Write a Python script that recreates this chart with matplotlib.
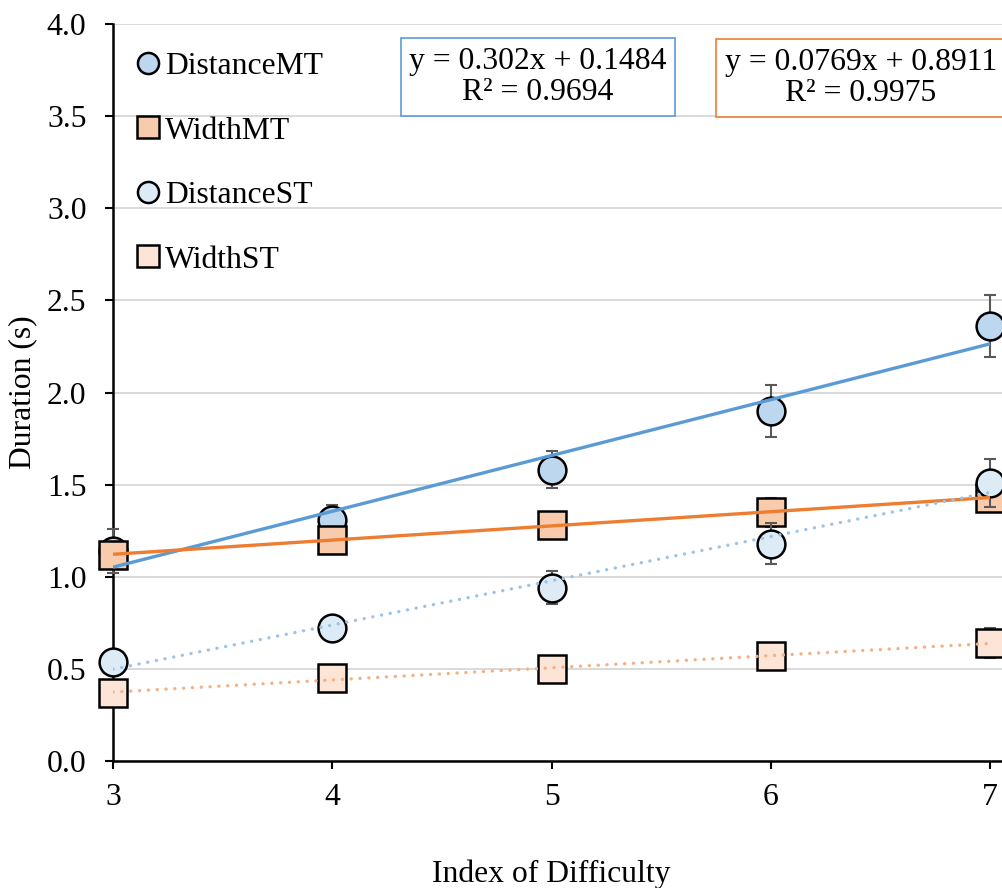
import numpy as np
import matplotlib
matplotlib.use("Agg")
import matplotlib.pyplot as plt

plt.rcParams['font.family'] = ['Liberation Serif', 'DejaVu Serif']

# Data
index_of_difficulty = np.array([3, 4, 5, 6, 7])
distance_mt = np.array([1.14, 1.31, 1.58, 1.90, 2.36])
width_mt = np.array([1.12, 1.20, 1.28, 1.35, 1.43])
distance_st = np.array([0.54, 0.72, 0.94, 1.18, 1.51])
width_st = np.array([0.37, 0.45, 0.50, 0.57, 0.64])

distance_mt_err = np.array([0.12, 0.08, 0.10, 0.14, 0.17])
width_mt_err = np.array([0.06, 0.07, 0.07, 0.08, 0.08])
distance_st_err = np.array([0.05, 0.05, 0.09, 0.11, 0.13])
width_st_err = np.array([0.04, 0.04, 0.05, 0.05, 0.08])

eq_mt_distance = "y = 0.302x + 0.1484\nR\u00b2 = 0.9694"
eq_mt_width = "y = 0.0769x + 0.8911\nR\u00b2 = 0.9975"

FS = 22.8
blue = '#5B9BD5'
orange = '#ED7D31'

fig = plt.figure(figsize=(10.02, 8.88), dpi=100)
ax = fig.add_axes([113 / 1002, 1 - 761 / 888, 889 / 1002, 737 / 888])

series = [
    ("DistanceMT", distance_mt, distance_mt_err, 'o', '#BDD7EE'),
    ("WidthMT", width_mt, width_mt_err, 's', '#F8CBAD'),
    ("DistanceST", distance_st, distance_st_err, 'o', '#DDEBF7'),
    ("WidthST", width_st, width_st_err, 's', '#FCE4D6'),
]

z = 3
for name, vals, err, mk, fc in series:
    ax.errorbar(index_of_difficulty, vals, yerr=err, fmt='none', ecolor='#595959',
                elinewidth=1.5, capsize=4, capthick=1.5, zorder=z, clip_on=False)
    ax.plot(index_of_difficulty, vals, linestyle='none', marker=mk, markersize=20,
            markerfacecolor=fc, markeredgecolor='black', markeredgewidth=1.8,
            label=name, zorder=z + 0.5, clip_on=False)
    z += 1

# Linear trend lines
trends = [
    (distance_mt, blue, '-'),
    (width_mt, orange, '-'),
    (distance_st, '#9DC3E6', (0, (0.05, 2.6))),
    (width_st, '#F4B183', (0, (0.05, 2.6))),
]
xs = np.array([3, 7])
for vals, col, ls in trends:
    k, b = np.polyfit(index_of_difficulty, vals, 1)
    ax.plot(xs, k * xs + b, color=col, linestyle=ls, linewidth=2.4,
            solid_capstyle='butt', dash_capstyle='round', zorder=10)

ax.set_xlim(3, 3 + 889 / 219.25)
ax.set_ylim(0, 4)
ax.set_xticks([3, 4, 5, 6, 7])
ax.set_yticks(np.arange(0, 4.01, 0.5))
ax.set_yticklabels([f"{v:.1f}" for v in np.arange(0, 4.01, 0.5)])
ax.tick_params(axis='both', labelsize=FS, direction='out', length=6, width=1.5)
ax.tick_params(axis='y', pad=13)
ax.tick_params(axis='x', pad=10)

ax.grid(axis='y', color='#D9D9D9', linewidth=1.4, zorder=0)
ax.set_axisbelow(True)
for s in ['top', 'right']:
    ax.spines[s].set_visible(False)
for s in ['left', 'bottom']:
    ax.spines[s].set_linewidth(1.8)

ax.set_xlabel("Index of Difficulty", fontsize=FS)
ax.set_ylabel("Duration (s)", fontsize=FS)
ax.xaxis.set_label_coords(0.493, -0.134)
ax.yaxis.set_label_coords(-0.085, 0.5)

leg = ax.legend(loc='upper left', bbox_to_anchor=(0.0157, 0.975), fontsize=FS,
                markerscale=0.76, handlelength=0.7, handletextpad=0.2,
                labelspacing=1.115, borderpad=0.3, borderaxespad=0.0,
                frameon=False)
leg.set_zorder(20)

fig.text(538 / 1002, 1 - 77 / 888, eq_mt_distance, fontsize=FS, ha='center', va='center',
         multialignment='center', linespacing=1.12,
         bbox=dict(boxstyle='square,pad=0.27', facecolor='white', edgecolor=blue, linewidth=1.2))
fig.text(861 / 1002, 1 - 78 / 888, eq_mt_width, fontsize=FS, ha='center', va='center',
         multialignment='center', linespacing=1.12,
         bbox=dict(boxstyle='square,pad=0.27', facecolor='white', edgecolor=orange, linewidth=1.2))

fig.savefig("out.png", dpi=100)
